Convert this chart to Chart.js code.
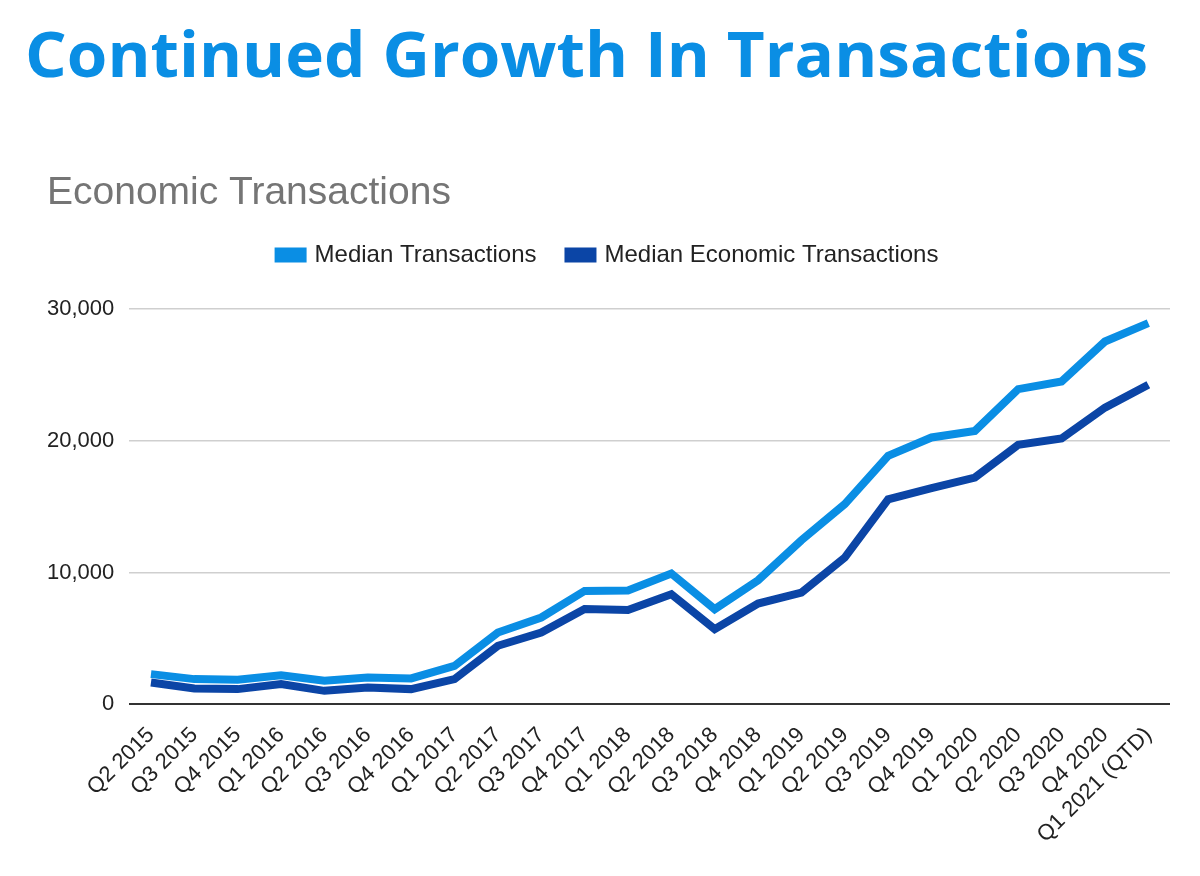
<!DOCTYPE html>
<html>
<head>
<meta charset="utf-8">
<script src="https://cdn.jsdelivr.net/npm/chart.js@4.4.1/dist/chart.umd.min.js"></script>
<style>
  html, body { margin: 0; padding: 0; background: #fff; }
  #wrap { position: relative; width: 1200px; height: 876px; }
  #headline {
    position: absolute; left: 25px; top: 22px; margin: 0;
    font-family: "Open Sans", sans-serif; font-weight: 700;
    font-size: 62px; line-height: 62px; color: #0a8ee4;
    white-space: nowrap; transform-origin: 0 0;
  }
  #chartBox { position: absolute; left: 0; top: 0; width: 1200px; height: 876px; }
</style>
</head>
<body>
<div id="wrap">
  <h1 id="headline">Continued Growth In Transactions</h1>
  <div id="chartBox"><canvas id="lineChart"></canvas></div>
</div>
<script>
// Quarters on the x axis
const quarters = [
  'Q2 2015', 'Q3 2015', 'Q4 2015', 'Q1 2016', 'Q2 2016', 'Q3 2016', 'Q4 2016',
  'Q1 2017', 'Q2 2017', 'Q3 2017', 'Q4 2017', 'Q1 2018', 'Q2 2018', 'Q3 2018',
  'Q4 2018', 'Q1 2019', 'Q2 2019', 'Q3 2019', 'Q4 2019', 'Q1 2020', 'Q2 2020',
  'Q3 2020', 'Q4 2020', 'Q1 2021 (QTD)'
];

// Values
const medianTransactions = [
  2280, 1900, 1850, 2200, 1770, 2020, 1950, 2910, 5440, 6580, 8600, 8630,
  9920, 7210, 9410, 12450, 15190, 18850, 20250, 20750, 23920, 24500, 27540, 28930
];
const medianEconomicTransactions = [
  1640, 1190, 1140, 1520, 1010, 1260, 1140, 1900, 4430, 5440, 7230, 7150,
  8350, 5690, 7640, 8470, 11130, 15550, 16400, 17210, 19690, 20170, 22520, 24250
];

const yTicks = [0, 10000, 20000, 30000];

document.addEventListener('DOMContentLoaded', function () {
  // stretch the headline to the width it has in the picture
  const head = document.getElementById('headline');
  const w = head.getBoundingClientRect().width;
  head.style.transform = 'scaleX(' + (1123 / w) + ')';

  createLineChart();
});

// extra room between the legend and the plot
const legendGap = {
  id: 'legendGap',
  beforeInit(chart) {
    const fit = chart.legend.fit;
    chart.legend.fit = function () {
      fit.bind(chart.legend)();
      this.height += 32;
    };
  }
};

function createLineChart() {
  const ctx = document.getElementById('lineChart').getContext('2d');
  const font = 'Liberation Sans, Arial, sans-serif';

  new Chart(ctx, {
    type: 'line',
    data: {
      labels: quarters,
      datasets: [
        {
          label: 'Median Transactions',
          data: medianTransactions,
          borderColor: '#0a8ee4',
          backgroundColor: '#0a8ee4',
          borderWidth: 8,
          pointRadius: 0,
          tension: 0
        },
        {
          label: 'Median Economic Transactions',
          data: medianEconomicTransactions,
          borderColor: '#0b45a6',
          backgroundColor: '#0b45a6',
          borderWidth: 8,
          pointRadius: 0,
          tension: 0
        }
      ]
    },
    plugins: [legendGap],
    options: {
      responsive: true,
      maintainAspectRatio: false,
      animation: false,
      layout: {
        padding: { top: 176, left: 47, right: 30, bottom: 18 }
      },
      scales: {
        x: {
          offset: true,
          grid: { display: false },
          border: { display: false },
          // the rotated first label fits without pushing the plot right
          afterFit: scale => { scale.paddingLeft = 0; },
          ticks: {
            color: '#222',
            maxRotation: 45,
            minRotation: 45,
            autoSkip: false,
            padding: 10,
            font: { family: font, size: 22 }
          }
        },
        y: {
          min: 0,
          max: 30000,
          afterBuildTicks: axis => { axis.ticks = yTicks.map(v => ({ value: v })); },
          // padding is counted twice in the width; drop the outer half
          afterFit: scale => { scale.width -= 15; },
          border: { display: false },
          grid: {
            drawTicks: false,
            lineWidth: c => (c.tick && c.tick.value === 0 ? 2 : 1.5),
            color: c => (c.tick && c.tick.value === 0 ? '#333' : '#cfcfcf')
          },
          ticks: {
            color: '#222',
            padding: 15,
            font: { family: font, size: 22 },
            callback: v => v.toLocaleString('en-US')
          }
        }
      },
      plugins: {
        title: {
          display: true,
          text: 'Economic Transactions',
          align: 'start',
          color: '#757575',
          font: { family: font, size: 39, weight: 'normal', lineHeight: 0.9 },
          padding: { top: 0, bottom: 0 }
        },
        legend: {
          display: true,
          labels: {
            color: '#222',
            boxWidth: 24,
            boxHeight: 7,
            padding: 32,
            font: { family: font, size: 24 }
          }
        },
        tooltip: { enabled: false }
      }
    }
  });
}
</script>
</body>
</html>
